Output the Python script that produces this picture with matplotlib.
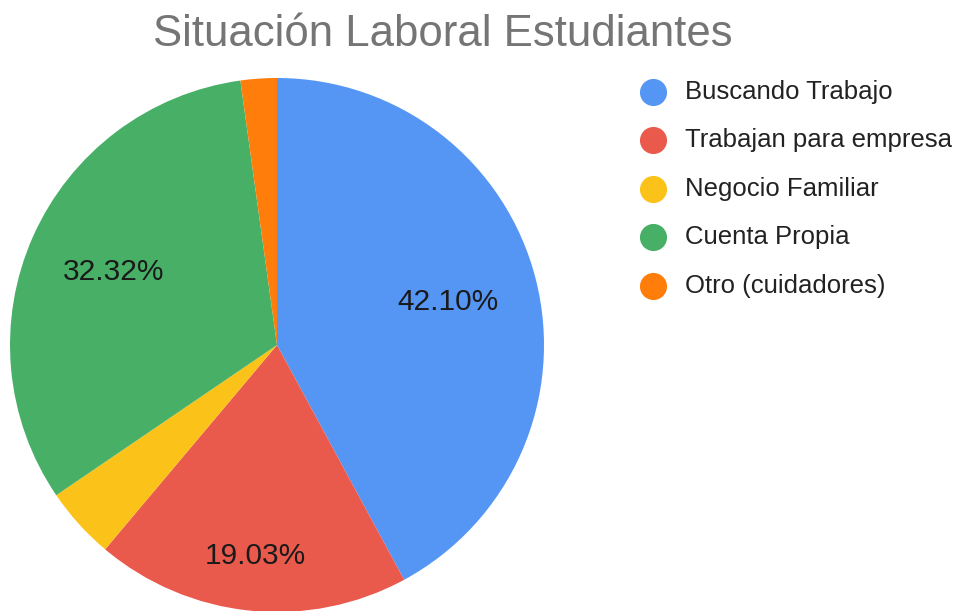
import matplotlib
matplotlib.use("Agg")
import matplotlib.pyplot as plt
from matplotlib.lines import Line2D
import numpy as np

# situacion laboral de los estudiantes (% del total)
categorias = ["Buscando Trabajo", "Trabajan para empresa", "Negocio Familiar",
              "Cuenta Propia", "Otro (cuidadores)"]
porcentajes = [42.10, 19.03, 4.36, 32.32, 2.19]
colores = ["#5596F5", "#EA5A4C", "#FBC31A", "#47B066", "#FF7D0A"]
titulo = "Situación Laboral Estudiantes"

plt.rcParams["font.family"] = ["Liberation Sans", "DejaVu Sans"]

W, H = 961, 611
fig = plt.figure(figsize=(W / 100, H / 100), dpi=100)

# pie centre and radius in pixels
cx, cy, r = 277, 345, 267
ax = fig.add_axes([(cx - r) / W, (H - cy - r) / H, 2 * r / W, 2 * r / H])

def etiqueta(p):
    # google hides labels of the small slices
    return "{:.2f}%".format(p) if p > 10 else ""

wedges, textos, pcts = ax.pie(porcentajes, colors=colores, startangle=90,
                              counterclock=False, autopct=etiqueta,
                              wedgeprops=dict(linewidth=0),
                              textprops=dict(fontsize=21.5, color="#1a1a1a"))
ax.set_xlim(-1, 1)
ax.set_ylim(-1, 1)

# distance of each percentage label from the centre
dist = [0.662, 0.796, 0.7, 0.67, 0.7]
for w, t, d in zip(wedges, pcts, dist):
    ang = np.deg2rad((w.theta1 + w.theta2) / 2)
    t.set_position((d * np.cos(ang), d * np.sin(ang)))

fig.text(443 / W, 1 - 46 / H, titulo, ha="center", va="baseline",
         fontsize=31.5, color="#757575")

# legend drawn by hand, one row per category
for i, (nombre, col) in enumerate(zip(categorias, colores)):
    y = 1 - (92 + i * 48.4) / H
    fig.add_artist(Line2D([653 / W], [y], marker="o", markersize=18.5,
                          color=col, transform=fig.transFigure))
    fig.text(685 / W, y, nombre, va="center", fontsize=18.5, color="#222222")

fig.savefig("out.png", dpi=100)
